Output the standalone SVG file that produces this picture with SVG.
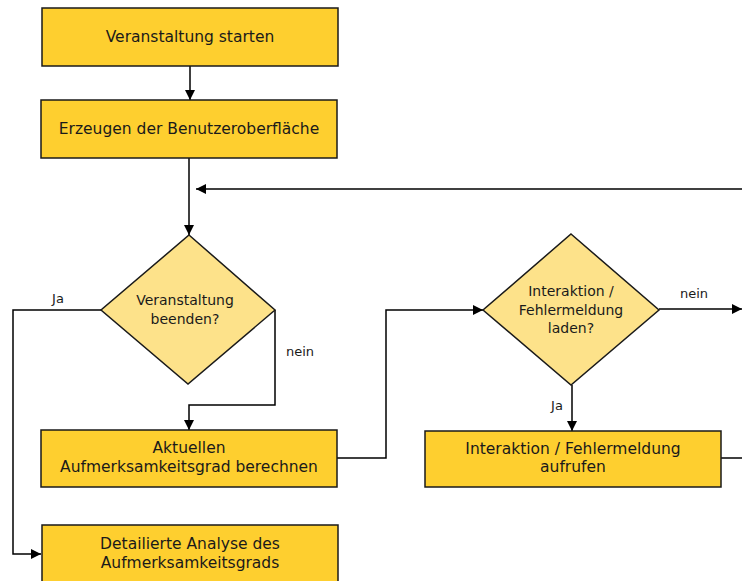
<svg xmlns="http://www.w3.org/2000/svg" width="742" height="581" viewBox="0 0 742 581">
<defs>
<marker id="arr" viewBox="0 0 10 10" refX="10" refY="5" markerWidth="10" markerHeight="10" markerUnits="userSpaceOnUse" orient="auto">
<path d="M0,0 L10,5 L0,10 z" fill="#000"/>
</marker>
<style>
.box{fill:#fecf2f;stroke:#1a1a1a;stroke-width:1.5}
.dia{fill:#fde28a;stroke:#1a1a1a;stroke-width:1.5}
.t{font-family:"DejaVu Sans",sans-serif;font-size:15.5px;fill:#1a1a1a;text-anchor:middle}
.d{font-family:"DejaVu Sans",sans-serif;font-size:14px;fill:#1a1a1a;text-anchor:middle}
.l{font-family:"DejaVu Sans",sans-serif;font-size:13px;fill:#1a1a1a;text-anchor:middle}
.c{fill:none;stroke:#000;stroke-width:1.5;marker-end:url(#arr)}
.n{fill:none;stroke:#000;stroke-width:1.5}
</style>
</defs>
<rect width="742" height="581" fill="#fff"/>
<g id="connectors">
<path class="c" d="M190,66 V100"/>
<path class="c" d="M189,158 V235"/>
<path class="c" d="M742,189 H196"/>
<path class="c" d="M101,310 H13 V554 H41"/>
<path class="c" d="M275,310 V405 H189 V430"/>
<path class="c" d="M337,458 H386 V310 H483"/>
<path class="c" d="M659,309 H742"/>
<path class="c" d="M572,385 V431"/>
<path class="n" d="M721,458 H742"/>
<text class="l" x="58" y="303">Ja</text>
<text class="l" x="300" y="356">nein</text>
<text class="l" x="694" y="298">nein</text>
<text class="l" x="557" y="410">Ja</text>
</g>
<g id="n1"><rect class="box" x="42" y="8" width="296" height="58"/><text class="t" x="190" y="42">Veranstaltung starten</text></g>
<g id="n2"><rect class="box" x="41" y="100" width="296" height="58"/><text class="t" x="189" y="134">Erzeugen der Benutzeroberfläche</text></g>
<g id="n3"><path class="dia" d="M189,235 L275,310 L188,384 L101,310 Z"/><text class="d" x="185" y="305">Veranstaltung</text><text class="d" x="185" y="324">beenden?</text></g>
<g id="n4"><rect class="box" x="41" y="430" width="296" height="57"/><text class="t" x="189" y="453">Aktuellen</text><text class="t" x="189" y="472">Aufmerksamkeitsgrad berechnen</text></g>
<g id="n5"><rect class="box" x="42" y="525" width="296" height="60"/><text class="t" x="190" y="549">Detailierte Analyse des</text><text class="t" x="190" y="568">Aufmerksamkeitsgrads</text></g>
<g id="n6"><path class="dia" d="M571,234 L659,310 L571,385 L483,310 Z"/><text class="d" x="571" y="296">Interaktion /</text><text class="d" x="571" y="315">Fehlermeldung</text><text class="d" x="571" y="333">laden?</text></g>
<g id="n7"><rect class="box" x="425" y="431" width="296" height="56"/><text class="t" x="573" y="454">Interaktion / Fehlermeldung</text><text class="t" x="573" y="472">aufrufen</text></g>
</svg>
